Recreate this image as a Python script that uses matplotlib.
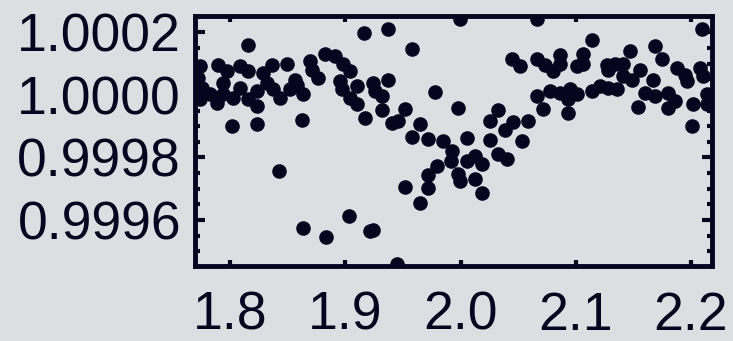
import numpy as np
import matplotlib.pyplot as plt
from matplotlib.ticker import MultipleLocator, FormatStrFormatter

# phase-folded flux points
phase = [
    1.7740, 1.7722, 1.7757, 1.7740, 1.7826, 1.7887, 1.7896, 1.7939, 1.7939, 1.7974,
    1.8026, 1.8087, 1.8087, 1.8156, 1.8156, 1.8156, 1.8234, 1.8234, 1.8286, 1.8321,
    1.8365, 1.8373, 1.8434, 1.8495, 1.8521, 1.8564, 1.8582, 1.8634, 1.8694, 1.8712,
    1.8764, 1.8825, 1.8911, 1.8981, 1.9042, 1.8955, 1.8972, 1.9042, 1.9102, 1.9102,
    1.9172, 1.8017, 1.8234, 1.8625, 1.9163, 1.8425, 1.8634, 1.8833, 1.9033, 1.9215,
    1.9371, 1.9580, 1.9996, 2.0665, 1.9241, 1.9371, 1.9259, 1.9319, 1.9779, 1.9319,
    1.9519, 1.9406, 1.9458, 1.9649, 1.9979, 2.0326, 2.0257, 2.0456, 2.0387, 2.0587,
    2.0665, 2.0717, 1.9580, 1.9719, 1.9849, 2.0057, 2.0257, 2.0535, 1.9927, 1.9918,
    2.0057, 2.0127, 2.0187, 2.0326, 2.0404, 1.9797, 1.9719, 1.9979, 1.9996, 2.0127,
    1.9519, 1.9719, 2.0187, 1.9649, 1.9241, 1.9450,
    2.0448, 2.0517, 2.0665, 2.0734, 2.0804, 2.0864, 2.0864, 2.1012, 2.1064, 2.1064,
    2.1142, 2.1272, 2.1342, 2.1411, 2.1281, 2.1472, 2.1689, 2.1750, 2.1559, 2.1489,
    2.1411, 2.1672, 2.1880, 2.1949, 2.1967, 2.2080, 2.2106, 2.2097,
    2.0778, 2.0864, 2.0951, 2.1012, 2.1142, 2.1212, 2.1281, 2.1359, 2.1602, 2.1689,
    2.1802, 2.1863, 2.1802, 2.2019, 2.2141, 2.2141, 2.0934, 2.0934, 2.1541, 2.2010,
]
flux = [
    1.000091, 1.000053, 1.000021, 0.999986, 1.000002, 0.999973, 1.000097, 1.000037, 1.000002, 1.000075,
    0.999989, 1.000091, 1.000021, 1.000075, 0.999986, 1.000158, 1.000011, 0.999963, 1.000069, 1.000037,
    1.000097, 1.000018, 0.999989, 1.000100, 1.000018, 1.000049, 1.000033, 1.000002, 1.000107, 1.000081,
    1.000053, 1.000132, 1.000123, 1.000100, 1.000075, 1.000043, 1.000018, 0.999989, 1.000027, 0.999970,
    0.999925, 0.999900, 0.999906, 0.999919, 1.000199, 0.999756, 0.999574, 0.999545, 0.999612, 0.999565,
    1.000212, 1.000148, 1.000244, 1.000241, 1.000037, 1.000049, 1.000011, 0.999995, 1.000008, 0.999951,
    0.999954, 0.999909, 0.999915, 0.999906, 0.999957, 0.999951, 0.999915, 0.999912, 0.999887, 0.999915,
    0.999995, 0.999954, 0.999864, 0.999858, 0.999852, 0.999861, 0.999855, 0.999852, 0.999820, 0.999788,
    0.999788, 0.999804, 0.999778, 0.999810, 0.999794, 0.999772, 0.999743, 0.999746, 0.999724, 0.999730,
    0.999705, 0.999702, 0.999686, 0.999654, 0.999567, 0.999459,
    1.000116, 1.000091, 1.000116, 1.000097, 1.000075, 1.000129, 1.000100, 1.000091, 1.000132, 1.000100,
    1.000174, 1.000097, 1.000100, 1.000100, 1.000081, 1.000139, 1.000155, 1.000116, 1.000081, 1.000049,
    1.000059, 1.000049, 1.000085, 1.000065, 1.000043, 1.000085, 1.000059, 1.000212,
    1.000011, 1.000005, 1.000018, 1.000002, 1.000011, 1.000027, 1.000021, 1.000018, 1.000005, 0.999995,
    1.000005, 0.999979, 0.999957, 0.999970, 1.000002, 0.999970, 0.999941, 0.999986, 0.999960, 0.999900,
]

xticks = [1.8, 1.9, 2.0, 2.1, 2.2]
yticks = [0.9996, 0.9998, 1.0000, 1.0002]

ink = '#05051f'
bg = '#dddee1'

plt.rcParams['font.family'] = ['Liberation Sans', 'DejaVu Sans']

fig = plt.figure(figsize=(7.33, 3.41), dpi=100, facecolor=bg)
ax = fig.add_axes([0.266, 0.22, 0.705, 0.733], facecolor=bg)

ax.plot(phase, flux, 'o', color=ink, ms=10.5, mew=0)

ax.set_xlim(1.7696, 2.218)
ax.set_ylim(0.999453, 1.000252)
ax.set_xticks(xticks)
ax.set_yticks(yticks)
ax.yaxis.set_major_formatter(FormatStrFormatter('%.4f'))
ax.xaxis.set_major_formatter(FormatStrFormatter('%.1f'))
ax.yaxis.set_minor_locator(MultipleLocator(0.00005))

for s in ax.spines.values():
    s.set_linewidth(3.5)
    s.set_color(ink)

ax.tick_params(axis='y', which='major', direction='in', length=7, width=3,
               left=True, right=True, color=ink, labelsize=38.5, labelcolor=ink, pad=10)
ax.tick_params(axis='y', which='minor', direction='in', length=3.5, width=3,
               left=True, right=True, color=ink)
ax.tick_params(axis='x', which='major', direction='in', length=4, width=3,
               top=True, bottom=True, color=ink, labelsize=38.5, labelcolor=ink, pad=18)

plt.savefig('out.png', dpi=100, facecolor=bg)
plt.close()
